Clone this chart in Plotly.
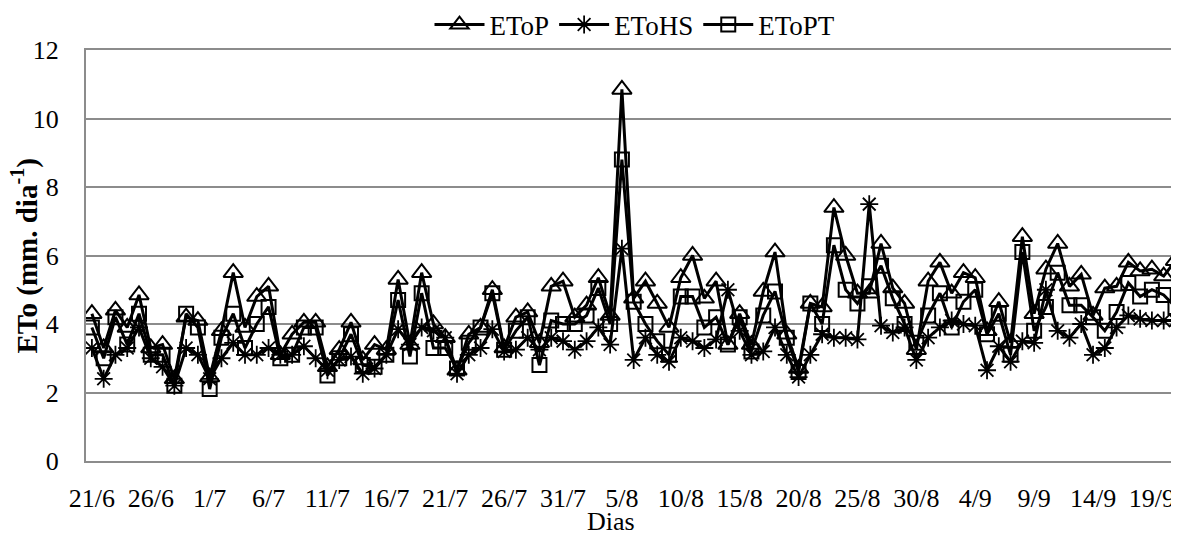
import plotly.graph_objects as go
import pandas as pd

dias = [d.strftime("%-d/%-m") for d in pd.date_range("2013-06-21", "2013-09-21", freq="D")]

etop = [4.3, 3.3, 4.4, 3.9, 4.85, 3.3, 3.4, 2.4, 4.2, 4.1,
        2.45, 3.8, 5.5, 3.9, 4.8, 5.1, 3.1, 3.7, 4.05, 4.05,
        2.75, 3.25, 4.05, 2.95, 3.4, 3.25, 5.3, 3.4, 5.5, 4.0,
        3.6, 2.65, 3.7, 3.9, 5.0, 3.3, 4.2, 4.35, 3.45, 5.1,
        5.25, 4.2, 4.55, 5.35, 4.25, 10.85, 4.75, 5.25, 4.6, 3.9,
        5.35, 6.0, 4.75, 5.25, 3.4, 4.3, 3.4, 4.95, 6.1, 3.7,
        2.7, 4.6, 4.5, 7.4, 6.0, 4.9, 4.9, 6.35, 5.05, 4.6,
        3.25, 5.25, 5.8, 4.9, 5.5, 5.35, 3.8, 4.65, 3.45, 6.55,
        4.3, 5.6, 6.35, 5.1, 5.45, 4.25, 5.05, 5.1, 5.8, 5.55,
        5.6, 5.4, 5.85]

etohs = [3.3, 2.4, 3.1, 3.3, 3.9, 3.0, 2.75, 2.2, 3.3, 3.1,
         2.4, 3.0, 3.45, 3.1, 3.1, 3.3, 3.1, 3.1, 3.35, 3.0,
         2.65, 2.95, 3.05, 2.55, 2.7, 3.1, 3.85, 3.4, 3.9, 3.8,
         3.6, 2.55, 3.1, 3.3, 3.85, 3.2, 3.25, 3.6, 3.25, 3.6,
         3.5, 3.25, 3.5, 3.9, 3.4, 6.2, 2.95, 3.6, 3.1, 2.9,
         3.6, 3.5, 3.3, 3.55, 5.0, 3.8, 3.1, 3.2, 3.9, 3.1,
         2.45, 3.1, 3.7, 3.6, 3.6, 3.55, 7.5, 3.95, 3.75, 3.9,
         2.95, 3.6, 3.9, 4.1, 4.0, 3.95, 2.65, 3.35, 2.9, 3.5,
         3.45, 5.0, 3.8, 3.6, 4.0, 3.1, 3.3, 3.9, 4.25, 4.15,
         4.1, 4.1, 4.1]

etopt = [3.9, 3.0, 4.2, 3.4, 4.3, 3.1, 3.1, 2.2, 4.3, 3.9,
         2.1, 3.6, 4.3, 3.3, 4.0, 4.5, 3.0, 3.1, 3.9, 3.9,
         2.5, 3.0, 3.7, 2.8, 2.75, 3.1, 4.7, 3.05, 4.9, 3.3,
         3.3, 2.7, 3.45, 3.9, 4.9, 3.25, 3.8, 4.2, 2.8, 4.1,
         4.0, 4.0, 4.25, 5.05, 4.0, 8.8, 4.65, 4.0, 3.5, 3.1,
         4.8, 4.8, 3.9, 4.2, 3.4, 4.2, 3.2, 4.25, 4.95, 3.6,
         2.6, 4.6, 4.0, 6.3, 5.0, 4.6, 5.1, 5.7, 4.75, 4.0,
         3.45, 4.25, 4.9, 3.9, 4.65, 5.0, 3.7, 4.3, 3.1, 6.1,
         3.8, 4.5, 5.5, 4.55, 4.55, 4.2, 3.8, 4.35, 5.2, 4.8,
         5.0, 4.85, 4.5]

tick_labels = dias[::5]

FONT = "Liberation Serif, Times New Roman, serif"
GRID = "#8c8c8c"
OFF = 8  # page body margin

fig = go.Figure()
fig.add_trace(go.Scatter(x=dias, y=etop, name="EToP", mode="lines+markers",
                         line=dict(color="black", width=3),
                         marker=dict(symbol="triangle-up-open", size=17, color="black",
                                     line=dict(width=2))))
fig.add_trace(go.Scatter(x=dias, y=etohs, name="EToHS", mode="lines+markers",
                         line=dict(color="black", width=3),
                         marker=dict(symbol="asterisk-open", size=15, color="black",
                                     line=dict(width=1.8))))
fig.add_trace(go.Scatter(x=dias, y=etopt, name="EToPT", mode="lines+markers",
                         line=dict(color="black", width=3),
                         marker=dict(symbol="square-open", size=14, color="black",
                                     line=dict(width=2))))

fig.update_layout(
    width=1179, height=533,
    margin=dict(l=86 - OFF, r=OFF, t=50 - OFF, b=533 - 461 + OFF, autoexpand=False),
    paper_bgcolor="white", plot_bgcolor="white",
    font=dict(family=FONT, size=26, color="black"),
    showlegend=True,
    legend=dict(orientation="h", x=(635 - 86) / 1093, xanchor="center",
                y=1 - (25 - OFF) / 533, yanchor="middle", yref="container",
                font=dict(size=27), itemwidth=50,
                bgcolor="rgba(0,0,0,0)"),
    xaxis=dict(type="category", range=[-0.5, 92.3], tickmode="array",
               tickvals=tick_labels, ticktext=tick_labels, automargin=False,
               showgrid=False, showline=True, mirror=True, linecolor=GRID, linewidth=2,
               ticks="outside", ticklen=13, tickcolor="rgba(0,0,0,0)",
               tickfont=dict(size=26), zeroline=False),
    yaxis=dict(range=[0, 12], dtick=2, showgrid=True, gridcolor=GRID, gridwidth=2,
               showline=True, linecolor=GRID, linewidth=2, automargin=False,
               ticks="outside", ticklen=20, tickcolor="rgba(0,0,0,0)",
               tickfont=dict(size=26), zeroline=False),
    annotations=[
        dict(text="<b>ETo (mm. dia<sup>-1</sup>)</b>", xref="paper", yref="paper",
             x=(25 - 86) / 1093, y=0.5, xanchor="center", yanchor="middle", textangle=-90,
             showarrow=False, font=dict(size=29)),
        dict(text="Dias", xref="paper", yref="paper", x=(611 - 86) / 1093,
             y=-(521 - 461) / 411, xanchor="center", yanchor="middle",
             showarrow=False, font=dict(size=26)),
    ],
)

fig.write_html("out.html")
